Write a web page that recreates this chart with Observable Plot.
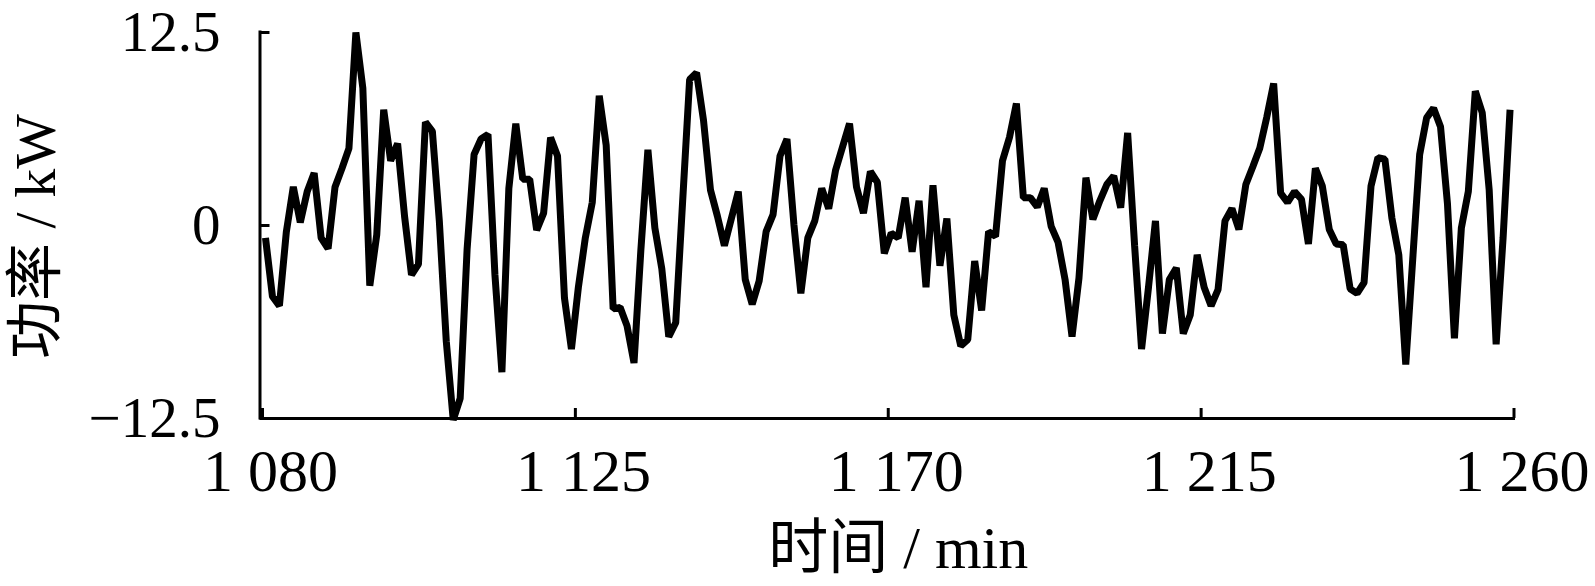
<!DOCTYPE html>
<html>
<head>
<meta charset="utf-8">
<script src="https://cdn.jsdelivr.net/npm/d3@7"></script>
<script src="https://cdn.jsdelivr.net/npm/@observablehq/plot@0.6"></script>
<style>
  html, body { margin: 0; padding: 0; background: #fff; }
  #chart svg { display: block; }
</style>
</head>
<body>
<div id="chart"></div>
<script>
// ---- data ----
const startMinute = 1080;            // first sample, one sample per minute
const powerKW = [
  -0.8, -4.6, -5.2, -0.4, 2.5, 0.2, 2.2, 3.4, -0.8, -1.5,      // 1080-1089
  2.5, 3.7, 5.0, 12.5, 8.9, -3.9, -0.6, 7.5, 4.2, 5.3,         // 1090-1099
  0.6, -3.2, -2.5, 6.7, 6.1, 0.3, -7.5, -12.6, -11.2, -1.5,    // 1100-1109
  4.6, 5.6, 5.9, -3.2, -9.5, 2.4, 6.6, 3.0, 3.0, -0.3,         // 1110-1119
  0.8, 5.7, 4.5, -4.7, -8.0, -4.0, -0.8, 1.5, 8.4, 5.2,        // 1120-1129
  -5.4, -5.3, -6.5, -8.9, -1.5, 4.9, -0.15, -2.8, -7.2, -6.3,  // 1130-1139
  1.6, 9.45, 9.9, 6.8, 2.3, 0.6, -1.3, 0.45, 2.2, -3.5,        // 1140-1149
  -5.1, -3.6, -0.4, 0.7, 4.5, 5.6, 0.06, -4.4, -0.8, 0.3,      // 1150-1159
  2.4, 1.1, 3.6, 5.1, 6.6, 2.5, 0.8, 3.5, 2.8, -1.8,           // 1160-1169
  -0.5, -0.8, 1.8, -1.7, 1.6, -4.0, 2.6, -2.6, 0.45, -5.8,     // 1170-1179
  -7.8, -7.4, -2.3, -5.5, -0.4, -0.7, 4.2, 5.7, 7.9, 1.8,      // 1180-1189
  1.8, 1.2, 2.4, -0.05, -1.1, -3.5, -7.2, -3.4, 3.1, 0.4,      // 1190-1199
  1.6, 2.65, 3.2, 1.15, 6.0, -1.3, -8.0, -4.0, 0.3, -7.0,      // 1200-1209
  -3.5, -2.75, -7.0, -5.8, -1.9, -4.0, -5.2, -4.15, 0.3, 1.1,  // 1210-1219
  -0.26, 2.65, 3.8, 5.0, 7.0, 9.2, 2.1, 1.5, 2.2, 1.7,         // 1220-1229
  -1.2, 3.7, 2.55, -0.26, -1.2, -1.25, -4.1, -4.4, -3.7, 2.55, // 1230-1239
  4.4, 4.3, 0.5, -1.9, -9.0, -2.2, 4.6, 6.97, 7.6, 6.4,        // 1240-1249
  1.4, -7.3, -0.15, 2.2, 8.7, 7.3, 2.3, -7.7, -0.8, 7.5        // 1250-1259
];
const xDomain = [1080, 1260];
const yDomain = [-12.5, 12.5];
const xTicks = [1080, 1125, 1170, 1215, 1260];
const xTickLabels = ["1 080", "1 125", "1 170", "1 215", "1 260"];
const yTicks = [-12.5, 0, 12.5];
const yTickLabels = ["\u221212.5", "0", "12.5"];
const xTitle = "时间 / min";
const yTitle = "功率 / kW";

// ---- build ----
const rows = powerKW.map((p, i) => ({minute: startMinute + i, power: p}));
const xLabelOf = new Map(xTicks.map((t, i) => [t, xTickLabels[i]]));
const yLabelOf = new Map(yTicks.map((t, i) => [t, yTickLabels[i]]));

const serif = "'Liberation Serif', 'Times New Roman', 'Noto Sans CJK SC', serif";

const chart = Plot.plot({
  width: 1595,
  height: 586,
  marginLeft: 262,
  marginRight: 81.5,
  marginTop: 32,
  marginBottom: 168,
  x: {domain: xDomain},
  y: {domain: yDomain},
  style: {fontFamily: serif, fontSize: "57px", color: "#000", background: "#fff"},
  marks: [
    // axis lines
    Plot.ruleX([xDomain[0]], {stroke: "#000", strokeWidth: 3, dx: -2.5, strokeLinecap: "square"}),
    Plot.ruleY([yDomain[0]], {stroke: "#000", strokeWidth: 3, strokeLinecap: "square"}),
    // inward ticks
    Plot.axisY({ticks: yTicks, tickSize: 10, dx: 7.5, tickFormat: () => "", label: null, strokeWidth: 3}),
    Plot.axisX({ticks: xTicks, tickSize: 10, dy: -10, tickFormat: () => "", label: null, strokeWidth: 3}),
    // tick labels
    Plot.axisY({ticks: yTicks, tickSize: 0, tickPadding: 42, tickFormat: d => yLabelOf.get(d), label: null, fontSize: 57}),
    Plot.axisX({ticks: xTicks, tickSize: 0, tickPadding: 30, dx: 8, tickFormat: d => xLabelOf.get(d), label: null, fontSize: 60}),
    // axis titles
    Plot.text([xTitle], {frameAnchor: "bottom", text: d => d, textAnchor: "middle", lineAnchor: "middle",
                         dx: 10, dy: 130, fontSize: 60, fill: "#000"}),
    Plot.text([yTitle], {frameAnchor: "left", text: d => d, textAnchor: "middle", lineAnchor: "middle",
                         rotate: -90, dx: -226, dy: 11, fontSize: 58, fill: "#000"}),
    // power series
    Plot.line(rows, {x: "minute", y: "power", stroke: "#000", strokeWidth: 7,
                     strokeLinejoin: "miter", strokeLinecap: "butt", dx: 3})
  ]
});
document.getElementById("chart").appendChild(chart);
</script>
</body>
</html>
